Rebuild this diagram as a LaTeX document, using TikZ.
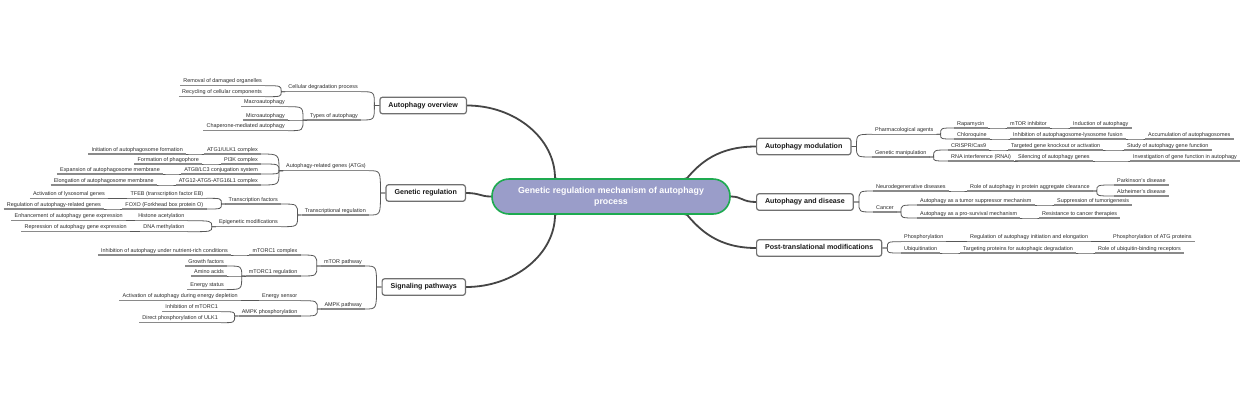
\documentclass[tikz,border=0pt]{standalone}
\usepackage{fontspec}
\setmainfont{Liberation Sans}
\usetikzlibrary{calc,backgrounds}
\definecolor{ulc}{HTML}{8A8A8A}
\definecolor{cnc}{HTML}{585858}
\definecolor{mcc}{HTML}{454545}
\definecolor{boxc}{HTML}{707070}
\definecolor{ctrfill}{HTML}{9A9DC9}
\definecolor{ctrdraw}{HTML}{1EAA50}
\definecolor{txc}{HTML}{2A2A2A}
\tikzset{
  tx/.style={font=\fontsize{5.45}{6}\selectfont, text=txc, inner xsep=3pt, inner ysep=1.5pt, text height=4.1pt, text depth=1.2pt},
  lt/.style={tx, anchor=south east},
  rt/.style={tx, anchor=south west},
  ul/.style={draw=ulc, line width=1.05pt},
  cn/.style={draw=cnc, line width=0.8pt},
  mainbox/.style={draw=boxc, line width=1.2pt, rounded corners=2.5pt, fill=white, text=black!90, font=\fontsize{7.1}{8}\selectfont\bfseries, inner xsep=8.5pt, inner ysep=0pt, minimum height=16.5pt, text height=5.3pt, text depth=1.5pt},
  mc/.style={draw=mcc, line width=1.8pt},
  ctrbox/.style={draw=ctrdraw, line width=1.6pt, fill=ctrfill, rounded corners=17pt, minimum width=238pt, minimum height=35pt, align=center, text=white, font=\fontsize{8.8}{10.7}\selectfont\bfseries}
}
\newcommand\Lnode[4]{\node[lt] (#1) at (#2,#3) {#4};\draw[ul] (#1.south west) -- (#1.south east);}
\newcommand\Rnode[4]{\node[rt] (#1) at (#2,#3) {#4};\draw[ul] (#1.south west) -- (#1.south east);}
\newcommand\Llink[2]{\coordinate (J) at ($(#2.south west)+(-4,0)$);\draw[cn] (#1.south east) .. controls (J |- #1.south east) .. (J) -- (#2.south west);}
\newcommand\Rlink[2]{\coordinate (J) at ($(#2.south east)+(4,0)$);\draw[cn] (#1.south west) .. controls (J |- #1.south west) .. (J) -- (#2.south east);}
\newcommand\LBlink[2]{\coordinate (J) at ($(#2.west)+(-5,0)$);\draw[cn] (#1.south east) .. controls (J |- #1.south east) .. (J) -- (#2.west);}
\newcommand\RBlink[2]{\coordinate (J) at ($(#2.east)+(5,0)$);\draw[cn] (#1.south west) .. controls (J |- #1.south west) .. (J) -- (#2.east);}
\begin{document}
\begin{tikzpicture}[x=1pt,y=-1pt]
\useasboundingbox (0,0) rectangle (1240,400);
% centre
\node[ctrbox] (ctr) at (611,196.5) {Genetic regulation mechanism of autophagy\\process};
% main boxes
\node[mainbox, anchor=east] (ov) at (467,105.5) {Autophagy overview};
\node[mainbox, anchor=east] (gen) at (466,193) {Genetic regulation};
\node[mainbox, anchor=east] (sig) at (466,287) {Signaling pathways};
\node[mainbox, anchor=west] (mod) at (756,146.5) {Autophagy modulation};
\node[mainbox, anchor=west] (dis) at (756,202) {Autophagy and disease};
\node[mainbox, anchor=west] (pt) at (756,248) {Post-translational modifications};
\begin{scope}[on background layer]
\fill[white] (0,0) rectangle (1240,400);
\draw[mc] (ov.east) .. controls (515,105.5) and ($(ctr.north)+(-56,-40)$) .. ($(ctr.north)+(-56,0)$) -- (ctr.center);
\draw[mc] (sig.east) .. controls (515,287) and ($(ctr.south)+(-56,39)$) .. ($(ctr.south)+(-56,0)$) -- (ctr.center);
\draw[mc] (gen.east) .. controls (480,193) and (480,196.5) .. (ctr.west) -- (ctr.center);
\draw[mc] (mod.west) .. controls (718,146.5) and (700,163) .. ($(ctr.north)+(76,0)$) -- (ctr.center);
\draw[mc] (pt.west) .. controls (718,248) and (700,230) .. ($(ctr.south)+(76,0)$) -- (ctr.center);
\draw[mc] (dis.west) .. controls (742,202) and (742,196.5) .. (ctr.east) -- (ctr.center);
\end{scope}
% ---------- Autophagy overview
\Lnode{a1}{361}{91.7}{Cellular degradation process}
\Lnode{a11}{265}{85.7}{Removal of damaged organelles}
\Lnode{a12}{265}{96.7}{Recycling of cellular components}
\Lnode{a2}{361}{120}{Types of autophagy}
\Lnode{a21}{288}{106.7}{Macroautophagy}
\Lnode{a22}{288}{120}{Microautophagy}
\Lnode{a23}{288}{130.7}{Chaperone-mediated autophagy}
\LBlink{a1}{ov}\LBlink{a2}{ov}
\Llink{a11}{a1}\Llink{a12}{a1}
\Llink{a21}{a2}\Llink{a22}{a2}\Llink{a23}{a2}
% ---------- Genetic regulation
\Lnode{b1}{369}{170.7}{Autophagy-related genes (ATGs)}
\Lnode{b2}{369}{215}{Transcriptional regulation}
\Lnode{b11}{261}{154}{ATG1/ULK1 complex}
\Lnode{b12}{261}{164}{PI3K complex}
\Lnode{b13}{261}{174}{ATG8/LC3 conjugation system}
\Lnode{b14}{261}{185}{ATG12-ATG5-ATG16L1 complex}
\Lnode{b111}{186}{154}{Initiation of autophagosome formation}
\Lnode{b121}{202}{164}{Formation of phagophore}
\Lnode{b131}{163}{174}{Expansion of autophagosome membrane}
\Lnode{b141}{157}{185}{Elongation of autophagosome membrane}
\Lnode{b21}{281}{204}{Transcription factors}
\Lnode{b22}{281}{226.7}{Epigenetic modifications}
\Lnode{b211}{206.5}{198.3}{TFEB (transcription factor EB)}
\Lnode{b212}{206.5}{209}{FOXO (Forkhead box protein O)}
\Lnode{b221}{187.5}{220.7}{Histone acetylation}
\Lnode{b222}{187.5}{231.7}{DNA methylation}
\Lnode{b2111}{108}{198.3}{Activation of lysosomal genes}
\Lnode{b2121}{104}{209}{Regulation of autophagy-related genes}
\Lnode{b2211}{126}{220.7}{Enhancement of autophagy gene expression}
\Lnode{b2221}{130}{231.7}{Repression of autophagy gene expression}
\LBlink{b1}{gen}\LBlink{b2}{gen}
\Llink{b11}{b1}\Llink{b12}{b1}\Llink{b13}{b1}\Llink{b14}{b1}
\Llink{b111}{b11}\Llink{b121}{b12}\Llink{b131}{b13}\Llink{b141}{b14}
\Llink{b21}{b2}\Llink{b22}{b2}
\Llink{b211}{b21}\Llink{b212}{b21}\Llink{b221}{b22}\Llink{b222}{b22}
\Llink{b2111}{b211}\Llink{b2121}{b212}\Llink{b2211}{b221}\Llink{b2221}{b222}
% ---------- Signaling pathways
\Lnode{c1}{365}{266}{mTOR pathway}
\Lnode{c2}{365}{309}{AMPK pathway}
\Lnode{c11}{300.5}{255}{mTORC1 complex}
\Lnode{c12}{300.5}{276}{mTORC1 regulation}
\Lnode{c111}{231}{255}{Inhibition of autophagy under nutrient-rich conditions}
\Lnode{c121}{227}{266}{Growth factors}
\Lnode{c122}{227}{276}{Amino acids}
\Lnode{c123}{227}{289.5}{Energy status}
\Lnode{c21}{300.5}{300.7}{Energy sensor}
\Lnode{c22}{300.5}{316}{AMPK phosphorylation}
\Lnode{c211}{241}{300.7}{Activation of autophagy during energy depletion}
\Lnode{c221}{221}{311.7}{Inhibition of mTORC1}
\Lnode{c222}{221}{322.7}{Direct phosphorylation of ULK1}
\LBlink{c1}{sig}\LBlink{c2}{sig}
\Llink{c11}{c1}\Llink{c12}{c1}\Llink{c111}{c11}
\Llink{c121}{c12}\Llink{c122}{c12}\Llink{c123}{c12}
\Llink{c21}{c2}\Llink{c22}{c2}\Llink{c211}{c21}
\Llink{c221}{c22}\Llink{c222}{c22}
% ---------- Autophagy modulation
\Rnode{d1}{872}{134.3}{Pharmacological agents}
\Rnode{d2}{872}{157}{Genetic manipulation}
\Rnode{d11}{954}{128}{Rapamycin}
\Rnode{d12}{954}{139}{Chloroquine}
\Rnode{d111}{1007}{128}{mTOR inhibitor}
\Rnode{d1111}{1070}{128}{Induction of autophagy}
\Rnode{d121}{1010}{139}{Inhibition of autophagosome-lysosome fusion}
\Rnode{d1211}{1145}{139}{Accumulation of autophagosomes}
\Rnode{d21}{948}{150}{CRISPR/Cas9}
\Rnode{d22}{948}{161}{RNA interference (RNAi)}
\Rnode{d211}{1008}{150}{Targeted gene knockout or activation}
\Rnode{d2111}{1124}{150}{Study of autophagy gene function}
\Rnode{d221}{1015}{161}{Silencing of autophagy genes}
\Rnode{d2211}{1130}{161}{Investigation of gene function in autophagy}
\RBlink{d1}{mod}\RBlink{d2}{mod}
\Rlink{d11}{d1}\Rlink{d12}{d1}\Rlink{d111}{d11}\Rlink{d1111}{d111}
\Rlink{d121}{d12}\Rlink{d1211}{d121}
\Rlink{d21}{d2}\Rlink{d22}{d2}\Rlink{d211}{d21}\Rlink{d2111}{d211}
\Rlink{d221}{d22}\Rlink{d2211}{d221}
% ---------- Autophagy and disease
\Rnode{e1}{873}{191}{Neurodegenerative diseases}
\Rnode{e2}{873}{212}{Cancer}
\Rnode{e11}{967}{191}{Role of autophagy in protein aggregate clearance}
\Rnode{e111}{1114}{185}{Parkinson's disease}
\Rnode{e112}{1114}{196}{Alzheimer's disease}
\Rnode{e21}{917}{205}{Autophagy as a tumor suppressor mechanism}
\Rnode{e22}{917}{218}{Autophagy as a pro-survival mechanism}
\Rnode{e211}{1054}{205}{Suppression of tumorigenesis}
\Rnode{e221}{1039}{218}{Resistance to cancer therapies}
\RBlink{e1}{dis}\RBlink{e2}{dis}
\Rlink{e11}{e1}\Rlink{e111}{e11}\Rlink{e112}{e11}
\Rlink{e21}{e2}\Rlink{e22}{e2}\Rlink{e211}{e21}\Rlink{e221}{e22}
% ---------- Post-translational modifications
\Rnode{f1}{901}{241.7}{Phosphorylation}
\Rnode{f2}{901}{253}{Ubiquitination}
\Rnode{f11}{967}{241.7}{Regulation of autophagy initiation and elongation}
\Rnode{f111}{1110}{241.7}{Phosphorylation of ATG proteins}
\Rnode{f21}{960}{253}{Targeting proteins for autophagic degradation}
\Rnode{f211}{1095}{253}{Role of ubiquitin-binding receptors}
\RBlink{f1}{pt}\RBlink{f2}{pt}
\Rlink{f11}{f1}\Rlink{f111}{f11}
\Rlink{f21}{f2}\Rlink{f211}{f21}
\end{tikzpicture}
\end{document}
